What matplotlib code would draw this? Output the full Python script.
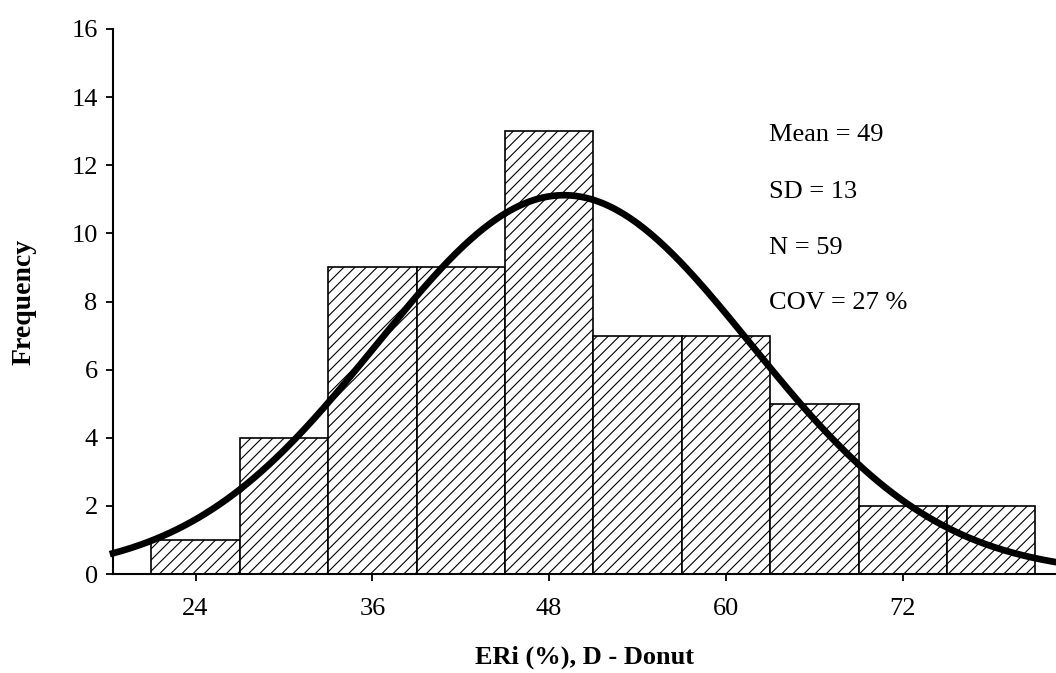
import numpy as np
import matplotlib.pyplot as plt

plt.rcParams['font.family'] = ['Liberation Serif', 'DejaVu Serif']
plt.rcParams['hatch.linewidth'] = 0.8

# histogram bins (ERi %) and counts
bin_edges = [21, 27, 33, 39, 45, 51, 57, 63, 69, 75, 81]
counts = [1, 4, 9, 9, 13, 7, 7, 5, 2, 2]

# fitted normal curve
curve_mean = 49
curve_sd = 12.7
n_total = 59

stats_text = ['Mean = 49', 'SD = 13', 'N = 59', 'COV = 27 %']

fig = plt.figure(figsize=(10.56, 6.73), dpi=100)
ax = fig.add_axes([0.107, 0.147, 0.893, 0.81])

widths = np.diff(bin_edges)
ax.bar(bin_edges[:-1], counts, width=widths, align='edge',
       color='white', edgecolor='black', linewidth=1.2, hatch='///', zorder=2)

xs = np.linspace(18.4, 82.4, 400)
bw = widths[0]
ys = n_total * bw / (curve_sd * np.sqrt(2 * np.pi)) * np.exp(-0.5 * ((xs - curve_mean) / curve_sd) ** 2)
ax.plot(xs, ys, color='black', linewidth=4.8, zorder=3, clip_on=False)

# stats block
ty = [12.9, 11.22, 9.57, 7.96]
for t, y in zip(stats_text, ty):
    ax.text(62.9, y, t, fontsize=19, va='center', ha='left')

ax.set_xlim(18.4, 82.4)
ax.set_ylim(0, 16)
ax.set_xticks([24, 36, 48, 60, 72])
ax.set_yticks(range(0, 17, 2))
ax.spines['top'].set_visible(False)
ax.spines['right'].set_visible(False)
ax.spines['left'].set_linewidth(1.5)
ax.spines['bottom'].set_linewidth(1.5)
ax.tick_params(direction='out', length=5, width=1.3, labelsize=19)
ax.tick_params(axis='y', pad=6)
ax.tick_params(axis='x', pad=12)

ax.set_xlabel('ERi (%), D - Donut', fontsize=19, fontweight='bold')
ax.set_ylabel('Frequency', fontsize=20, fontweight='bold')
ax.xaxis.set_label_coords(0.5, -0.153)
ax.xaxis.label.set_va('center')
ax.yaxis.set_label_coords(-0.094, 0.5)
ax.yaxis.label.set_va('center')

fig.savefig('out.png', dpi=100)
